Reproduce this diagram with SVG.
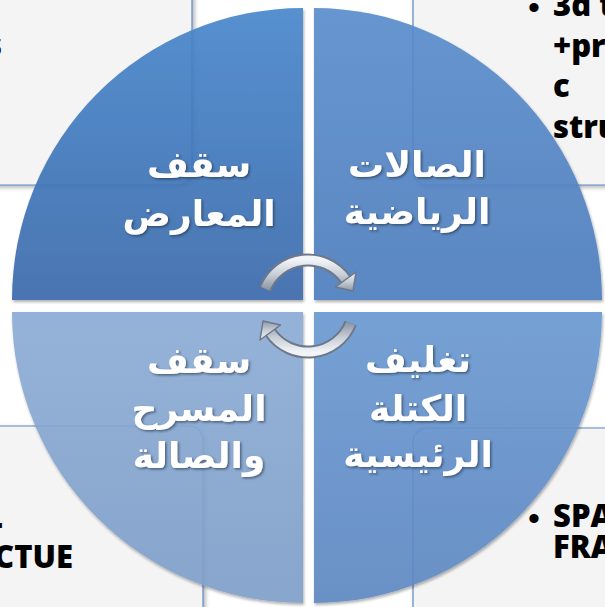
<svg xmlns="http://www.w3.org/2000/svg" width="605" height="607" viewBox="0 0 605 607">
<defs>
<style>
.box{fill:#f4f4f4;stroke:#5b86c0;stroke-width:1.2;filter:url(#bshadow)}
.en{font-family:"Open Sans","Liberation Sans",sans-serif;font-weight:800;font-size:31px;fill:#000}
.bul{font-family:"Liberation Sans",sans-serif;font-size:34px;fill:#000}
.ar{font-family:"DejaVu Sans",sans-serif;font-weight:bold;font-size:36px;fill:#fff;text-anchor:middle;filter:url(#tshadow)}
.q{opacity:0.92;filter:url(#qshadow)}
.arcOut{fill:none;stroke:#6e7888;stroke-width:13}
.arcIn{fill:none;stroke:url(#silver);stroke-width:9}
.head{fill:url(#silver);stroke:#6e7888;stroke-width:1.5;stroke-linejoin:round}
</style>
<linearGradient id="gTL" x1="0" y1="0" x2="0" y2="1"><stop offset="0" stop-color="#4887cc"/><stop offset="1" stop-color="#3a6aab"/></linearGradient>
<linearGradient id="gTR" x1="0" y1="0" x2="0" y2="1"><stop offset="0" stop-color="#5a8dcc"/><stop offset="1" stop-color="#4e7ebd"/></linearGradient>
<linearGradient id="gBL" x1="0" y1="0" x2="0" y2="1"><stop offset="0" stop-color="#8cacd6"/><stop offset="1" stop-color="#7f9fc9"/></linearGradient>
<linearGradient id="gBR" x1="0" y1="0" x2="0" y2="1"><stop offset="0" stop-color="#6b99d2"/><stop offset="1" stop-color="#5d88c2"/></linearGradient>
<linearGradient id="silver" x1="0" y1="0" x2="0" y2="1"><stop offset="0" stop-color="#f2f4f7"/><stop offset="0.5" stop-color="#c9cfd8"/><stop offset="1" stop-color="#8d97a6"/></linearGradient>
<filter id="bshadow" x="-10%" y="-10%" width="130%" height="130%"><feDropShadow dx="2" dy="2" stdDeviation="2" flood-color="#000" flood-opacity="0.3"/></filter>
<filter id="qshadow" x="-10%" y="-10%" width="130%" height="130%"><feDropShadow dx="1" dy="2" stdDeviation="1.5" flood-color="#000" flood-opacity="0.35"/></filter>
<filter id="tshadow" x="-20%" y="-20%" width="140%" height="140%"><feDropShadow dx="1.5" dy="1.5" stdDeviation="1.2" flood-color="#1a2a40" flood-opacity="0.6"/></filter>
</defs>
<rect width="605" height="607" fill="#fff"/>
<g id="boxes">
<g id="box-tl"><rect class="box" x="-20" y="-20" width="212" height="205" rx="14"/><text class="en" x="2" y="56" text-anchor="end">s</text></g>
<g id="box-tr"><rect class="box" x="413" y="-20" width="220" height="205" rx="14"/>
<text class="bul" x="528" y="19">•</text>
<text class="en" x="553" y="16">3d t</text><text class="en" x="553" y="57">+pr</text><text class="en" x="553" y="97">c</text><text class="en" x="553" y="138">stru</text></g>
<g id="box-bl"><rect class="box" x="-20" y="426" width="223" height="220" rx="14"/>
<text class="en" x="3" y="528" text-anchor="end">L</text><text class="en" x="73" y="568" text-anchor="end">CTUE</text></g>
<g id="box-br"><rect class="box" x="413" y="428" width="220" height="220" rx="14"/>
<text class="bul" x="528" y="530">•</text>
<text class="en" x="553" y="527">SPA</text><text class="en" x="553" y="558">FRA</text></g>
</g>
<g id="quadrants">
<g id="q-tl"><path class="q" fill="url(#gTL)" d="M303,300 L12,300 A291,292 0 0 1 303,8 Z"/>
<text class="ar" x="199" y="177">سقف</text><text class="ar" x="199" y="226">المعارض</text></g>
<g id="q-tr"><path class="q" fill="url(#gTR)" d="M314,300 L314,8 A288,292 0 0 1 602,300 Z"/>
<text class="ar" x="417" y="177">الصالات</text><text class="ar" x="417" y="224">الرياضية</text></g>
<g id="q-bl"><path class="q" fill="url(#gBL)" d="M303,312 L303,603 A291,291 0 0 1 12,312 Z"/>
<text class="ar" x="199" y="373">سقف</text><text class="ar" x="199" y="421">المسرح</text><text class="ar" x="199" y="468">والصالة</text></g>
<g id="q-br"><path class="q" fill="url(#gBR)" d="M314,312 L602,312 A288,291 0 0 1 314,603 Z"/>
<text class="ar" x="418" y="372">تغليف</text><text class="ar" x="418" y="421">الكتلة</text><text class="ar" x="418" y="467">الرئيسية</text></g>
</g>
<g id="connectors">
<g id="arrow-top">
<path class="arcOut" d="M265.3,288.8 A46,46 0 0 1 345.7,279.6"/>
<path class="arcIn" d="M265.3,288.8 A46,46 0 0 1 345.7,279.6"/>
<polygon class="head" points="356,272 335.5,287 353,291"/>
</g>
<g id="arrow-bottom" transform="rotate(180 308 306)">
<path class="arcOut" d="M265.3,288.8 A46,46 0 0 1 345.7,279.6"/>
<path class="arcIn" d="M265.3,288.8 A46,46 0 0 1 345.7,279.6"/>
<polygon class="head" points="356,272 335.5,287 353,291"/>
</g>
</g>
</svg>
